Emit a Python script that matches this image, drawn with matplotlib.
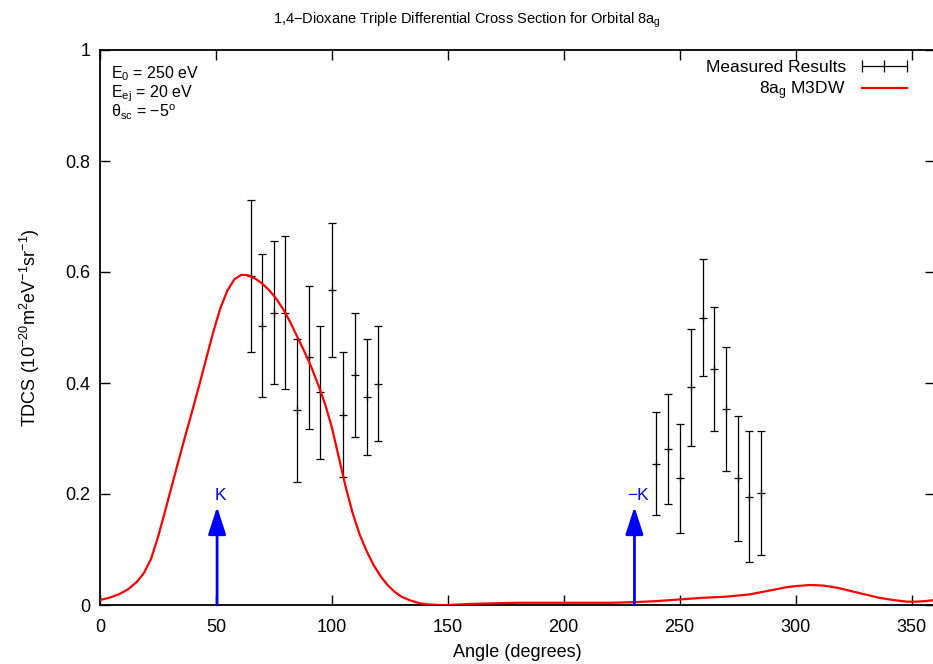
import matplotlib
matplotlib.use("Agg")
import matplotlib.pyplot as plt
from matplotlib.lines import Line2D

plt.rcParams["font.family"] = ["Liberation Sans", "DejaVu Sans"]
plt.rcParams["mathtext.fontset"] = "custom"
plt.rcParams["mathtext.rm"] = "Liberation Sans"
plt.rcParams["mathtext.it"] = "Liberation Sans:italic"
plt.rcParams["mathtext.default"] = "rm"

# measured TDCS points
meas_angle = [65, 70, 75, 80, 85, 90, 95, 100, 105, 110, 115, 120,
              240, 245, 250, 255, 260, 265, 270, 275, 280, 285]
meas_tdcs = [0.593, 0.503, 0.527, 0.527, 0.351, 0.447, 0.383, 0.568, 0.342, 0.415, 0.375, 0.399,
             0.254, 0.281, 0.228, 0.393, 0.518, 0.426, 0.353, 0.228, 0.195, 0.201]
meas_low = [0.455, 0.375, 0.399, 0.390, 0.222, 0.318, 0.263, 0.447, 0.230, 0.303, 0.270, 0.295,
            0.162, 0.182, 0.129, 0.287, 0.413, 0.314, 0.242, 0.116, 0.077, 0.090]
meas_high = [0.729, 0.632, 0.656, 0.664, 0.479, 0.575, 0.503, 0.688, 0.455, 0.527, 0.479, 0.503,
             0.347, 0.380, 0.327, 0.498, 0.623, 0.537, 0.465, 0.340, 0.314, 0.314]

# M3DW theory curve
theory_angle = [0, 4, 8, 12, 16, 19, 22, 25, 28, 31, 34, 37, 40, 43, 46, 49, 52, 55, 58, 61,
                64, 67, 70, 73, 76, 79, 82, 85, 88, 91, 94, 97, 100, 103, 106, 109, 112, 115,
                118, 121, 124, 127, 130, 134, 138, 142, 146, 150, 160, 170, 180, 190, 200,
                210, 220, 230, 240, 250, 260, 270, 280, 290, 296, 300, 306, 312, 318, 324,
                330, 336, 342, 348, 352, 356, 360]
theory_tdcs = [0.009, 0.013, 0.019, 0.028, 0.042, 0.058, 0.083, 0.122, 0.168, 0.215, 0.262,
               0.308, 0.353, 0.399, 0.447, 0.494, 0.536, 0.567, 0.587, 0.595, 0.594, 0.588,
               0.579, 0.567, 0.552, 0.533, 0.510, 0.484, 0.458, 0.430, 0.398, 0.363, 0.320,
               0.266, 0.212, 0.165, 0.127, 0.097, 0.072, 0.052, 0.036, 0.024, 0.015, 0.008,
               0.003, 0.001, 0.0, 0.0, 0.002, 0.003, 0.004, 0.004, 0.004, 0.004, 0.004, 0.005,
               0.007, 0.010, 0.013, 0.015, 0.019, 0.027, 0.032, 0.034, 0.036, 0.035, 0.031,
               0.025, 0.019, 0.013, 0.009, 0.006, 0.006, 0.007, 0.009]

# momentum transfer directions
arrow_angle = [50.5, 230.5]
arrow_label = ["K", "\u2212K"]
arrow_top = 0.177

xticks = [0, 50, 100, 150, 200, 250, 300, 350]
yticks = [0, 0.2, 0.4, 0.6, 0.8, 1.0]
ytick_labels = ["0", "0.2", "0.4", "0.6", "0.8", "1"]

W, H = 933, 664
fig = plt.figure(figsize=(W / 100, H / 100), dpi=100)
ax = fig.add_axes([100 / W, 59 / H, 834.7 / W, 555 / H])

yerr = [[t - lo for t, lo in zip(meas_tdcs, meas_low)],
        [hi - t for t, hi in zip(meas_tdcs, meas_high)]]
ax.errorbar(meas_angle, meas_tdcs, yerr=yerr, fmt="+", color="black", ecolor="black",
            elinewidth=0.9, capsize=3, capthick=0.9, markersize=6, markeredgewidth=0.9, zorder=3)
ax.plot(theory_angle, theory_tdcs, color="red", lw=1.6, zorder=4)

for a, lab in zip(arrow_angle, arrow_label):
    ax.annotate("", xy=(a, arrow_top), xytext=(a, 0),
                arrowprops=dict(arrowstyle="-|>,head_length=1.3,head_width=0.42",
                                color="blue", lw=2.0, shrinkA=0, shrinkB=0,
                                mutation_scale=13), zorder=5)
    ax.text(a + 1.5, 0.198, lab, color="blue", ha="center", va="center", fontsize=12.5)

ax.set_xlim(0, 360)
ax.set_ylim(0, 1)
ax.set_xticks(xticks)
ax.set_yticks(yticks)
ax.set_yticklabels(ytick_labels)
ax.tick_params(direction="in", length=7, width=1.0, top=True, right=True, labelsize=13)
ax.tick_params(axis="x", pad=10)
ax.tick_params(axis="y", pad=7)
for s in ax.spines.values():
    s.set_linewidth(1.3)
ax.set_xlabel("Angle (degrees)", fontsize=13, labelpad=6)
ax.set_ylabel("TDCS (10$^{-20}$m$^{2}$eV$^{-1}$sr$^{-1}$)", fontsize=13, labelpad=17)

fig.text(0.5, 1 - 20 / H, "1,4\u2212Dioxane Triple Differential Cross Section for Orbital 8a$_{g}$",
         ha="center", va="center", fontsize=10.5)

# run parameters, top left
ax.text(111 / W, 1 - 78 / H, "E$_{0}$ = 250 eV", transform=fig.transFigure,
        ha="left", va="baseline", fontsize=11.5)
ax.text(111 / W, 1 - 97 / H, "E$_{ej}$ = 20 eV", transform=fig.transFigure,
        ha="left", va="baseline", fontsize=11.5)
ax.text(111 / W, 1 - 117 / H, "\u03b8$_{sc}$ = \u22125$^{o}$", transform=fig.transFigure,
        ha="left", va="baseline", fontsize=11.5)

h_meas = Line2D([0], [0], color="black", lw=0.9, marker="|", markersize=8, markeredgewidth=0.9)
h_theo = Line2D([0], [0], color="red", lw=1.6)
ax.legend([h_meas, h_theo], ["Measured Results", "8a$_{g}$ M3DW"], loc="upper right",
          bbox_to_anchor=(912 / W, 1 - 60 / H), bbox_transform=fig.transFigure,
          frameon=False, markerfirst=False, numpoints=3, handlelength=3.2,
          handletextpad=0.6, labelspacing=0.25, borderpad=0, borderaxespad=0, fontsize=12.5)

fig.savefig("out.png", dpi=100)
